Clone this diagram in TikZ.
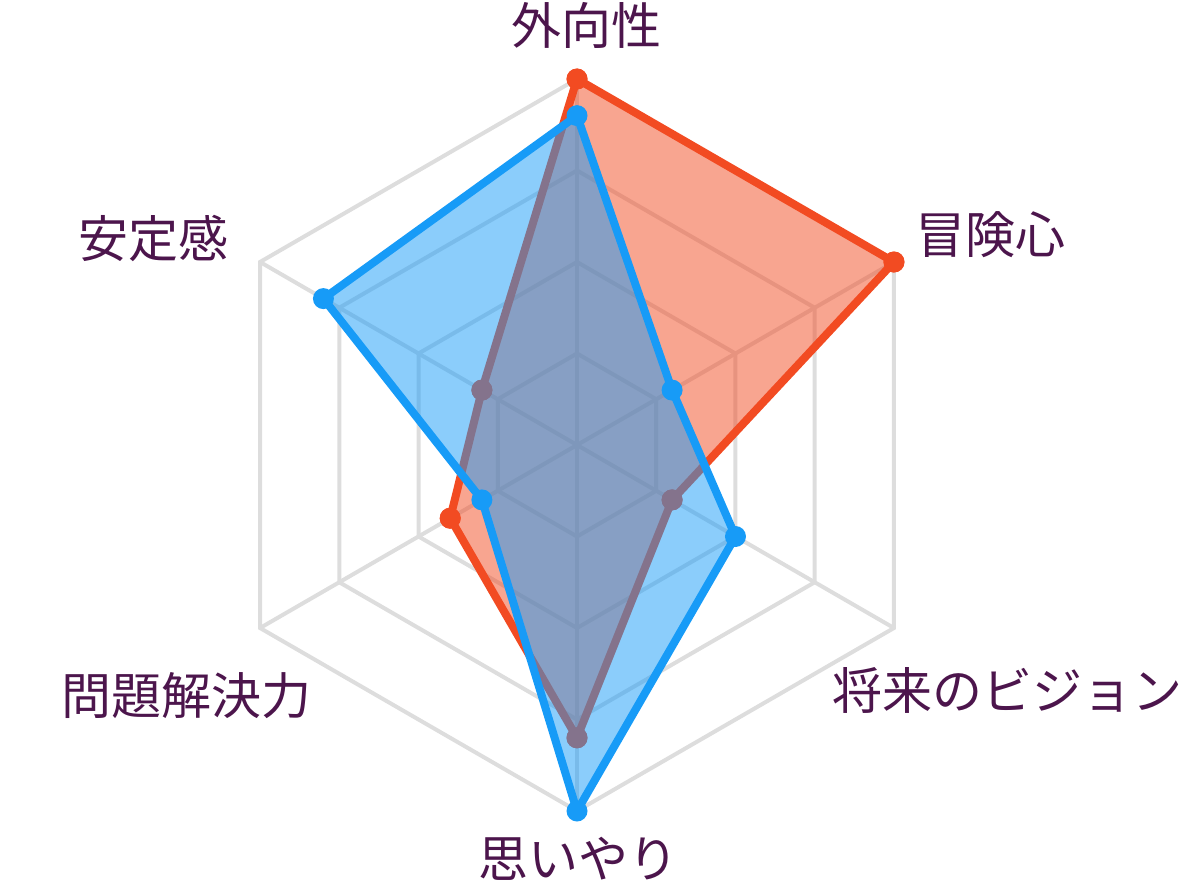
\documentclass[tikz,border=0pt]{standalone}
\usepackage{fontspec}
\newfontfamily\cjk{Noto Sans CJK JP}
\definecolor{gridc}{RGB}{221,221,221}
\definecolor{orc}{RGB}{242,75,34}
\definecolor{blc}{RGB}{23,155,247}
\definecolor{txtc}{RGB}{76,21,76}
\begin{document}
\begin{tikzpicture}[x=1pt,y=1pt,
  gridline/.style={draw=gridc,line width=4pt,line join=miter},
  series/.style={line width=8pt,line join=round},
  dot/.style={circle,inner sep=0pt,minimum size=21pt},
  lab/.style={font=\cjk\fontsize{50}{60}\selectfont,text=txtc,inner sep=0pt}]
\useasboundingbox (0,0) rectangle (1192,-891);
\coordinate (c) at (577,-445);
\def\R{366}
\begin{scope}[shift={(577,-445)}]
  \foreach \k in {1,2,3,4}{
    \draw[gridline] (90:\k*\R/4) -- (30:\k*\R/4) -- (-30:\k*\R/4) -- (-90:\k*\R/4) -- (210:\k*\R/4) -- (150:\k*\R/4) -- cycle;
  }
  \foreach \a in {90,30,-30,-90,210,150}{
    \draw[gridline] (0,0) -- (\a:\R);
  }
  % orange series
  \node[dot,fill=orc] (o0) at (90:1.0*\R) {};
  \node[dot,fill=orc] (o1) at (30:1.0*\R) {};
  \node[dot,fill=orc] (o2) at (-30:0.3*\R) {};
  \node[dot,fill=orc] (o3) at (-90:0.8*\R) {};
  \node[dot,fill=orc] (o4) at (210:0.4*\R) {};
  \node[dot,fill=orc] (o5) at (150:0.3*\R) {};
\end{scope}
\fill[orc,fill opacity=0.5] (o0.center) -- (o1.center) -- (o2.center) -- (o3.center) -- (o4.center) -- (o5.center) -- cycle;
\draw[orc,series] (o0.center) -- (o1.center) -- (o2.center) -- (o3.center) -- (o4.center) -- (o5.center) -- cycle;
\foreach \n in {o0,o1,o2,o3,o4,o5}{ \fill[orc] (\n) circle (10.5pt); }
\begin{scope}[shift={(577,-445)}]
  \node[dot] (b0) at (90:0.9*\R) {};
  \node[dot] (b1) at (30:0.3*\R) {};
  \node[dot] (b2) at (-30:0.5*\R) {};
  \node[dot] (b3) at (-90:1.0*\R) {};
  \node[dot] (b4) at (210:0.3*\R) {};
  \node[dot] (b5) at (150:0.8*\R) {};
\end{scope}
\fill[blc,fill opacity=0.5] (b0.center) -- (b1.center) -- (b2.center) -- (b3.center) -- (b4.center) -- (b5.center) -- cycle;
\draw[blc,series] (b0.center) -- (b1.center) -- (b2.center) -- (b3.center) -- (b4.center) -- (b5.center) -- cycle;
\foreach \n in {b0,b1,b2,b3,b4,b5}{ \fill[blc] (\n) circle (10.5pt); }
% labels
\node[lab] (l0) at (586,-25) {外向性};
\node[lab] (l1) at (990,-235) {冒険心};
\node[lab] (l2) at (1007,-690) {将来のビジョン};
\node[lab] (l3) at (578,-859) {思いやり};
\node[lab] (l4) at (186,-696) {問題解決力};
\node[lab] (l5) at (153,-238) {安定感};
\end{tikzpicture}
\end{document}
